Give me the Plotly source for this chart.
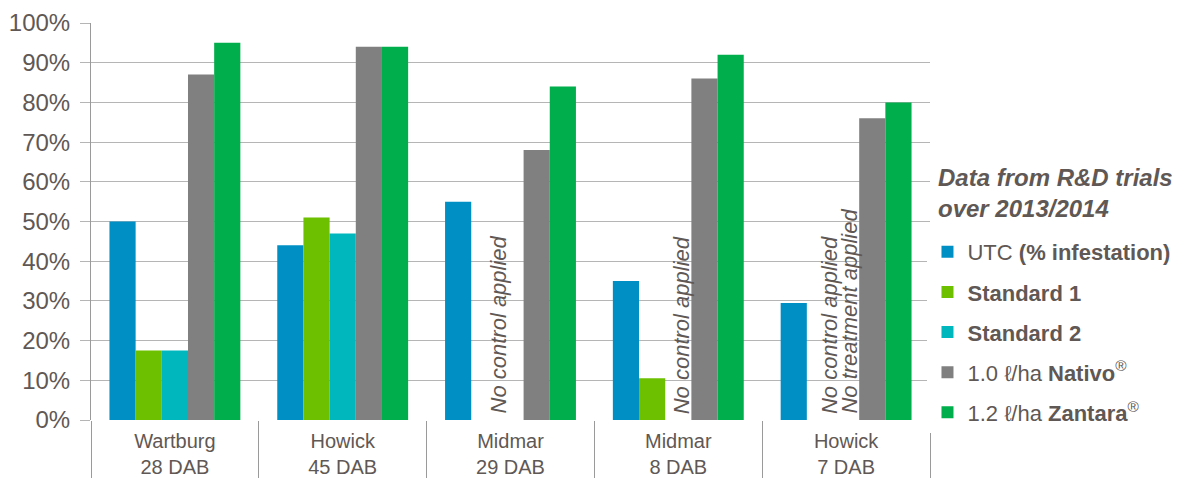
import plotly.graph_objects as go

sites = ["Wartburg<br>28 DAB", "Howick<br>45 DAB", "Midmar<br>29 DAB", "Midmar<br>8 DAB", "Howick<br>7 DAB"]

utc = [50, 44, 55, 35, 29.5]
standard1 = [17.5, 51, None, 10.5, None]
standard2 = [17.5, 47, None, None, None]
nativo = [87, 94, 68, 86, 76]
zantara = [95, 94, 84, 92, 80]

series = [
    ("UTC <b>(% infestation)</b>", utc, "#008fc5"),
    ("<b>Standard 1</b>", standard1, "#6cc000"),
    ("<b>Standard 2</b>", standard2, "#00b7bd"),
    ("1.0 \u2113/ha <b>Nativo</b><sup>\u00ae</sup>", nativo, "#808080"),
    ("1.2 \u2113/ha <b>Zantara</b><sup>\u00ae</sup>", zantara, "#00ae4b"),
]

txt = "#5f5854"
grid = "#b5b5b5"
font = "Liberation Sans, Arial, sans-serif"

fig = go.Figure()
for i, (name, vals, col) in enumerate(series):
    fig.add_trace(go.Bar(
        x=sites, y=[v / 100 if v is not None else None for v in vals],
        name=name, marker=dict(color=col, line=dict(width=0)),
        legendgroup=str(i),
    ))

# missing-treatment notes
notes = [
    (sites[2], "No control applied", -13),
    (sites[3], "No control applied", 3),
    (sites[4], "No control applied", -17),
    (sites[4], "No treatment applied", 3),
]
for site, text, dx in notes:
    fig.add_annotation(
        x=site, y=0, xref="x", yref="y", text="<i>" + text + "</i>",
        textangle=-90, showarrow=False, xanchor="center", yanchor="bottom",
        xshift=dx, yshift=4,
        font=dict(size=22, color=txt, family=font),
    )

# legend heading
fig.add_annotation(
    x=1.0, y=0.65, xref="paper", yref="paper", xanchor="left", yanchor="top",
    xshift=6, align="left", showarrow=False,
    text="<b><i>Data from R&D trials<br>over 2013/2014</i></b>",
    font=dict(size=24, color=txt, family=font),
)

fig.update_layout(
    width=1189, height=478,
    margin=dict(l=91, r=259, t=23, b=58),
    paper_bgcolor="white", plot_bgcolor="white",
    barmode="group", bargap=0.22, bargroupgap=0,
    font=dict(family=font, color=txt, size=20),
    legend=dict(
        x=0.997, y=0.476, xanchor="left", yanchor="top",
        traceorder="grouped", tracegroupgap=8.5,
        font=dict(size=22, color=txt),
    ),
    xaxis=dict(
        type="category", tickson="boundaries", ticks="outside", ticklen=60,
        tickcolor="#9a9a9a", tickwidth=1, showgrid=False, showline=False,
        ticklabelstandoff=7, tickfont=dict(size=20, color=txt),
        automargin=False,
    ),
    yaxis=dict(
        range=[0, 1.0], tickformat=".0%", dtick=0.1, tickmode="linear",
        showgrid=True, gridcolor=grid, gridwidth=1, zeroline=False,
        ticks="outside", ticklen=10, tickcolor=grid,
        showline=True, linecolor="#9a9a9a", linewidth=1,
        ticklabelstandoff=5, tickfont=dict(size=24, color=txt),
        automargin=False,
    ),
)

# drop the default page margin so the figure fills the window exactly
fig.write_html("out.html", config={"displayModeBar": False},
               post_script="document.body.style.margin='0';")
